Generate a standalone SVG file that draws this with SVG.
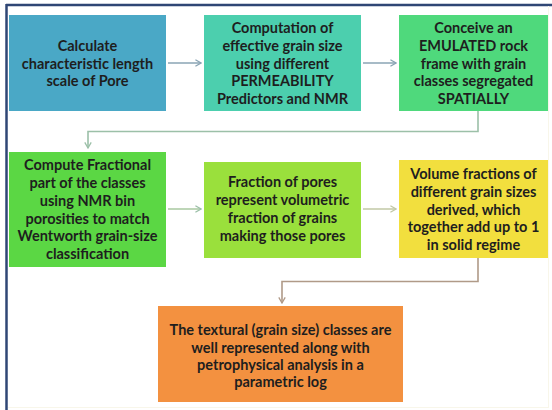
<svg xmlns="http://www.w3.org/2000/svg" width="552" height="410" viewBox="0 0 552 410">
<style>
.t{font-family:Lato,"Liberation Sans",sans-serif;font-weight:700;font-size:14.5px;fill:#1e1e1e;text-anchor:middle}
.c{fill:none;stroke-width:1.6}
</style>
<defs>
<marker id="ab" viewBox="0 0 10 10" refX="9" refY="5" markerWidth="8" markerHeight="8" markerUnits="userSpaceOnUse" orient="auto"><path d="M2,1 L9,5 L2,9" fill="none" stroke="#8aa4b4" stroke-width="1.6"/></marker>
<marker id="ag" viewBox="0 0 10 10" refX="9" refY="5" markerWidth="8" markerHeight="8" markerUnits="userSpaceOnUse" orient="auto"><path d="M2,1 L9,5 L2,9" fill="none" stroke="#9cc0a8" stroke-width="1.6"/></marker>
<marker id="ay" viewBox="0 0 10 10" refX="9" refY="5" markerWidth="8" markerHeight="8" markerUnits="userSpaceOnUse" orient="auto"><path d="M2,1 L9,5 L2,9" fill="none" stroke="#c2c8a6" stroke-width="1.6"/></marker>
<marker id="ar" viewBox="0 0 10 10" refX="9" refY="5" markerWidth="8" markerHeight="8" markerUnits="userSpaceOnUse" orient="auto"><path d="M2,1 L9,5 L2,9" fill="none" stroke="#b09a88" stroke-width="1.6"/></marker>
</defs>
<rect width="552" height="410" fill="#ffffff"/>
<line x1="6" y1="5" x2="552" y2="5" stroke="#2f4675" stroke-width="2.5"/>
<line x1="6.5" y1="4" x2="6.5" y2="410" stroke="#2f4675" stroke-width="2.5"/>
<line x1="548.5" y1="6" x2="548.5" y2="408" stroke="#f8f6ea" stroke-width="1"/>
<line x1="8" y1="407.5" x2="549" y2="407.5" stroke="#f8f6ea" stroke-width="1"/>

<g id="connectors">
<line class="c" x1="168" y1="63" x2="201" y2="63" stroke="#8aa4b4" marker-end="url(#ab)"/>
<line class="c" x1="363" y1="63" x2="396" y2="63" stroke="#8aa4b4" marker-end="url(#ab)"/>
<polyline class="c" points="478,111 478,131.5 88,131.5 88,148" stroke="#9cc0a8" marker-end="url(#ag)"/>
<line class="c" x1="168" y1="209" x2="201" y2="209" stroke="#a8c8a0" marker-end="url(#ag)"/>
<line class="c" x1="363" y1="209" x2="396" y2="209" stroke="#c2c8a6" marker-end="url(#ay)"/>
<polyline class="c" points="478,258 478,281.5 282,281.5 282,303" stroke="#b09a88" marker-end="url(#ar)"/>
</g>

<g id="n1">
<rect x="9" y="15" width="157" height="96" fill="#4aa8c6"/>
<text class="t"><tspan x="87.5" y="51">Calculate</tspan><tspan x="87.5" y="68.5">characteristic length</tspan><tspan x="87.5" y="86">scale of Pore</tspan></text>
</g>
<g id="n2">
<rect x="204" y="15" width="157" height="96" fill="#4ccfae"/>
<text class="t"><tspan x="282.5" y="33">Computation of</tspan><tspan x="282.5" y="51">effective grain size</tspan><tspan x="282.5" y="68.5">using different</tspan><tspan x="282.5" y="86">PERMEABILITY</tspan><tspan x="282.5" y="104">Predictors and NMR</tspan></text>
</g>
<g id="n3">
<rect x="399" y="15" width="149" height="96" fill="#4fd97c"/>
<text class="t"><tspan x="473.5" y="33">Conceive an</tspan><tspan x="473.5" y="51">EMULATED rock</tspan><tspan x="473.5" y="68.5">frame with grain</tspan><tspan x="473.5" y="86">classes segregated</tspan><tspan x="473.5" y="104">SPATIALLY</tspan></text>
</g>
<g id="n4">
<rect x="9" y="152" width="157" height="115" fill="#5bd744"/>
<text class="t"><tspan x="87.5" y="170">Compute Fractional</tspan><tspan x="87.5" y="188">part of the classes</tspan><tspan x="87.5" y="206">using NMR bin</tspan><tspan x="87.5" y="223.5">porosities to match</tspan><tspan x="87.5" y="241">Wentworth grain-size</tspan><tspan x="87.5" y="258.5">classification</tspan></text>
</g>
<g id="n5">
<rect x="204" y="162" width="157" height="96" fill="#9ae03c"/>
<text class="t"><tspan x="282.5" y="187">Fraction of pores</tspan><tspan x="282.5" y="205">represent volumetric</tspan><tspan x="282.5" y="223">fraction of grains</tspan><tspan x="282.5" y="241">making those pores</tspan></text>
</g>
<g id="n6">
<rect x="399" y="160" width="149" height="98" fill="#f2df3e"/>
<text class="t"><tspan x="473.5" y="178.5">Volume fractions of</tspan><tspan x="473.5" y="196.5">different grain sizes</tspan><tspan x="473.5" y="214.5">derived, which</tspan><tspan x="473.5" y="232">together add up to 1</tspan><tspan x="473.5" y="249.5">in solid regime</tspan></text>
</g>
<g id="n7">
<rect x="158" y="306" width="245" height="96" fill="#f39140"/>
<text class="t"><tspan x="280.5" y="335">The textural (grain size) classes are</tspan><tspan x="280.5" y="352.5">well represented along with</tspan><tspan x="280.5" y="369.5">petrophysical analysis in a</tspan><tspan x="280.5" y="387">parametric log</tspan></text>
</g>
</svg>
